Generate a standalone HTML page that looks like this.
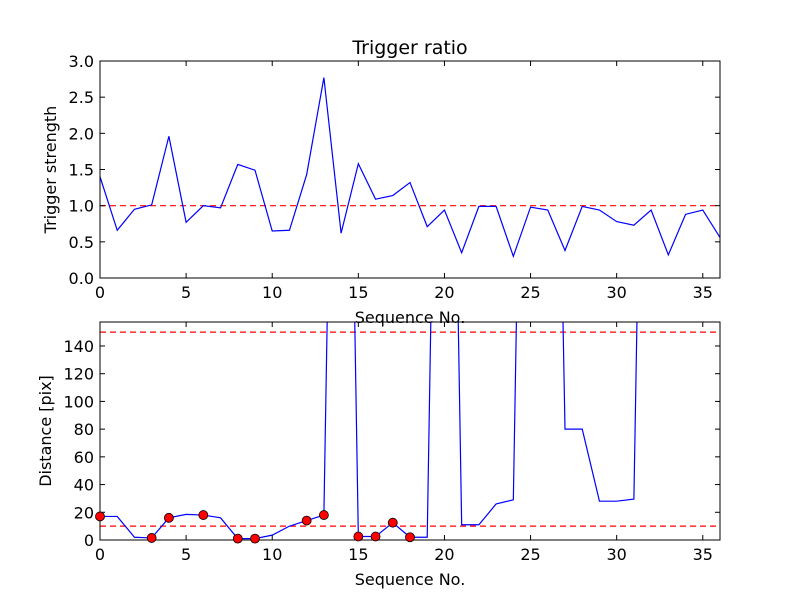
<!DOCTYPE html>
<html><head><meta charset="utf-8"><style>
body{margin:0;background:#fff;}
svg{display:block;font-family:"DejaVu Sans","Liberation Sans",sans-serif;}
</style></head><body>
<svg id="c" width="800" height="600"></svg>
<script>
const seqTop = [0,1,2,3,4,5,6,7,8,9,10,11,12,13,14,15,16,17,18,19,20,21,22,23,24,25,26,27,28,29,30,31,32,33,34,35,36];
const triggerStrength = [1.4,0.66,0.95,1.01,1.96,0.77,1.0,0.97,1.57,1.49,0.65,0.66,1.43,2.77,0.62,1.58,1.09,1.14,1.32,0.71,0.94,0.35,0.99,0.99,0.30,0.98,0.94,0.38,0.99,0.94,0.78,0.73,0.94,0.32,0.88,0.94,0.56];
const distance = [17,17,2,1.5,16,18.5,18,16,1,1,3.5,10,14,18,750,2.5,2.5,12.5,2,2,750,11,11,26,29,750,750,80,80,28,28,29.5,750,750,750,750,750];
const markerIdx = [0,3,4,6,8,9,12,13,15,16,17,18];
const topYTicks = [0,0.5,1.0,1.5,2.0,2.5,3.0];
const botYTicks = [0,20,40,60,80,100,120,140];
const xTicks = [0,5,10,15,20,25,30,35];
const topThreshold = [1.0];
const botThresholds = [10,150];

const NS="http://www.w3.org/2000/svg";
const svg=document.getElementById('c');
function mk(t,a,p){const e=document.createElementNS(NS,t);for(const k in a)e.setAttribute(k,a[k]);(p||svg).appendChild(e);return e;}
const X0=100,X1=720;
const sx=v=>X0+(v-0)/36*(X1-X0);

function panel(id,yT,yB,ymax,ticks,fmt,ylabel){
  const sy=v=>yB-v/ymax*(yB-yT);
  const g=mk('g',{});
  
  
  const cid='clip-'+id;
  const cp=mk('clipPath',{id:cid},g);
  mk('rect',{x:X0,y:yT,width:X1-X0,height:yB-yT},cp);
  const data=mk('g',{'clip-path':'url(#'+cid+')'},g);
  xTicks.forEach(t=>{
    const x=sx(t);
    mk('line',{x1:x,y1:yB,x2:x,y2:yB-5,stroke:'#000'},g);
    mk('line',{x1:x,y1:yT,x2:x,y2:yT+5,stroke:'#000'},g);
    const tx=mk('text',{x:x,y:yB+20,'font-size':16,'text-anchor':'middle'},g);
    tx.textContent=t;
    
    
  });
  ticks.forEach(t=>{
    const y=sy(t);
    mk('line',{x1:X0,y1:y,x2:X0+5,y2:y,stroke:'#000'},g);
    mk('line',{x1:X1,y1:y,x2:X1-5,y2:y,stroke:'#000'},g);
    const tx=mk('text',{x:X0-6,y:y+6,'font-size':16,'text-anchor':'end'},g);
    tx.textContent=fmt(t);
    
    
  });
  const yl=mk('text',{x:0,y:0,'font-size':16,'text-anchor':'middle',transform:`translate(${id==='top'?56:51},${(yT+yB)/2}) rotate(-90)`},g);
  yl.textContent=ylabel;
  
  
  const xl=mk('text',{x:(X0+X1)/2,y:yB+45,'font-size':16,'text-anchor':'middle'},g);
  xl.textContent='Sequence No.';
  
  
  return {sy,data,g,yT,yB};
}

const topP=panel('top',61,278,3.0,topYTicks,v=>v.toFixed(1),'Trigger strength');
topThreshold.forEach(v=>{
  const l=mk('line',{x1:X0,x2:X1,y1:topP.sy(v),y2:topP.sy(v),stroke:'#f00','stroke-width':1.2,'stroke-dasharray':'6,4'},topP.data);
  
  
});
const p1=mk('polyline',{fill:'none',stroke:'#00f','stroke-width':1.2,points:seqTop.map((s,i)=>sx(s)+','+topP.sy(triggerStrength[i])).join(' ')},topP.data);


mk('rect',{x:X0,y:61,width:X1-X0,height:217,fill:'none',stroke:'#000'},topP.g);
const tt=mk('text',{x:410,y:54,'font-size':19,'text-anchor':'middle'});
tt.textContent='Trigger ratio';



const botP=panel('bot',322,540,157.3,botYTicks,v=>String(v),'Distance [pix]');
botThresholds.forEach(v=>{
  const l=mk('line',{x1:X0,x2:X1,y1:botP.sy(v),y2:botP.sy(v),stroke:'#f00','stroke-width':1.2,'stroke-dasharray':'6,4'},botP.data);
  
  
});
const p2=mk('polyline',{fill:'none',stroke:'#00f','stroke-width':1.2,points:seqTop.map((s,i)=>sx(s)+','+botP.sy(distance[i])).join(' ')},botP.data);


markerIdx.forEach(i=>{
  const c=mk('circle',{cx:sx(seqTop[i]),cy:botP.sy(distance[i]),r:4.5,fill:'#f00',stroke:'#000','stroke-width':0.8},svg);
  
  
});
mk('rect',{x:X0,y:322,width:X1-X0,height:218,fill:'none',stroke:'#000'},botP.g);
</script>
</body></html>
